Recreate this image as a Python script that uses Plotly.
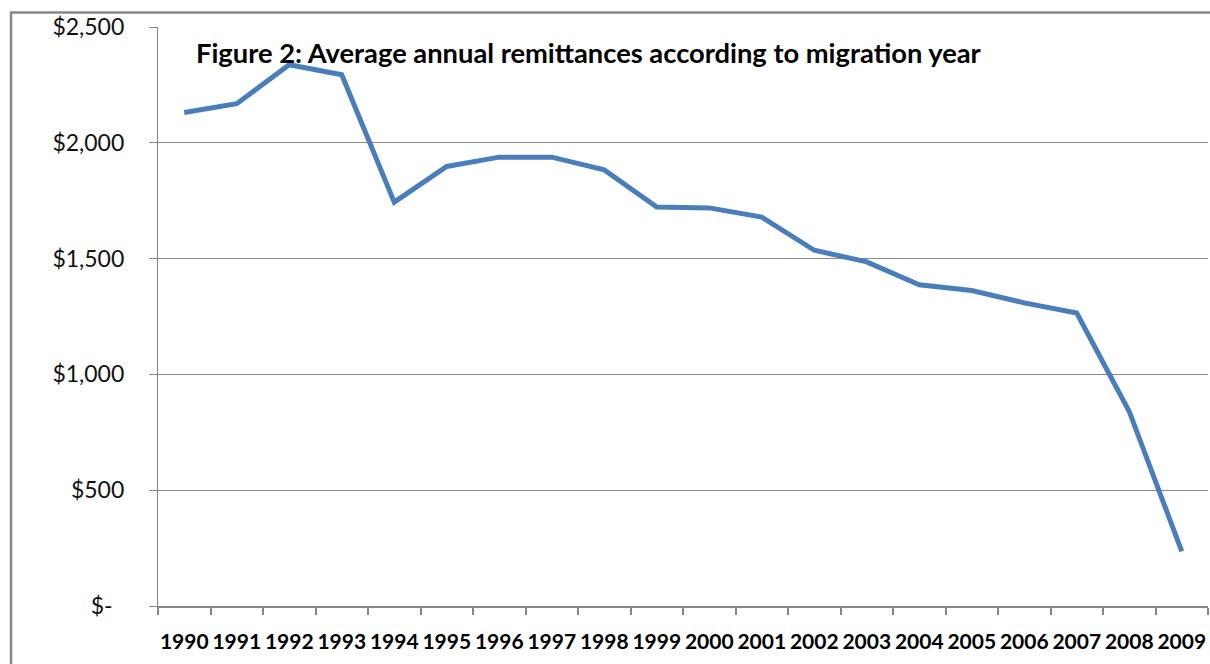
import plotly.graph_objects as go

years = [str(y) for y in range(1990, 2010)]
remittances = [2131, 2169, 2337, 2294, 1744, 1898, 1938, 1938, 1883, 1723,
               1719, 1679, 1536, 1486, 1387, 1362, 1309, 1265, 840, 236]
ytick_vals = [0, 500, 1000, 1500, 2000, 2500]
ytick_text = ["$-\u00a0\u00a0", "$500", "$1,000", "$1,500", "$2,000", "$2,500"]
title_text = "Figure 2: Average annual remittances according to migration year"

W, H = 1210, 664
L, R, T, B = 158, 2, 27, 58
pw, ph = W - L - R, H - T - B

def px(x):
    return (x - L) / pw

def py(y):
    return (H - B - y) / ph

fig = go.Figure()
fig.add_trace(go.Scatter(
    x=years, y=remittances, mode="lines",
    line=dict(color="#4A7EBB", width=5),
    showlegend=False, hoverinfo="x+y"))

fig.update_layout(
    width=W, height=H,
    margin=dict(l=L, r=R, t=T, b=B, autoexpand=False),
    paper_bgcolor="white", plot_bgcolor="white",
    font=dict(family="Lato, Open Sans, sans-serif", color="black"),
    xaxis=dict(
        type="category", range=[-0.5, 19.5], automargin=False,
        tickson="boundaries", ticks="outside", ticklen=7, tickwidth=1.5,
        tickcolor="#878787", showline=True, linecolor="#878787", linewidth=2,
        showgrid=False, tickangle=0,
        tickfont=dict(family="Lato", size=21, color="black", weight="bold"),
        ticklabelstandoff=16,
    ),
    yaxis=dict(
        range=[0, 2500], tickvals=ytick_vals, ticktext=ytick_text,
        automargin=False,
        ticks="outside", ticklen=8, tickwidth=1.2, tickcolor="#878787",
        showline=True, linecolor="#878787", linewidth=1.2,
        showgrid=True, gridcolor="#878787", gridwidth=1.2,
        zeroline=False,
        tickfont=dict(family="Lato", size=23, color="#111111"),
        ticklabelstandoff=20,
    ),
    shapes=[dict(type="rect", xref="paper", yref="paper",
                 x0=px(11), x1=px(1220), y0=py(680), y1=py(12.5),
                 line=dict(color="#878787", width=2.5), layer="below")],
    annotations=[dict(text=title_text, xref="paper", yref="paper",
                      x=px(194), y=py(52), xanchor="left", yanchor="middle",
                      showarrow=False,
                      font=dict(family="Lato", size=27.3, color="black", weight="bold"))],
)

fig.write_html(
    "out.html",
    config={"displayModeBar": False},
    post_script="document.body.style.margin='0';document.body.style.overflow='hidden';",
)
